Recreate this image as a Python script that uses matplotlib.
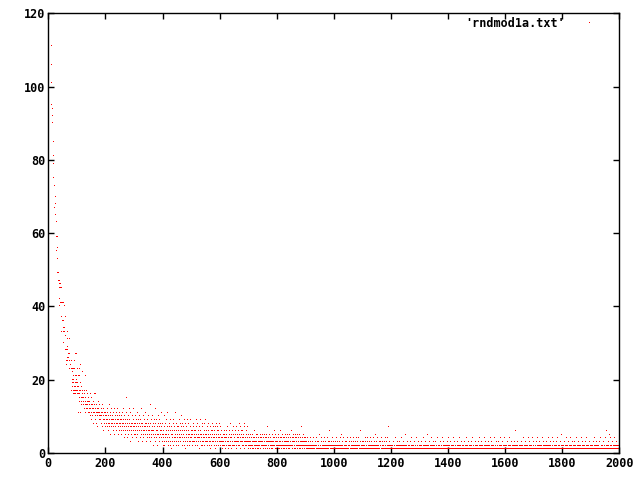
import numpy as np
import matplotlib.pyplot as plt

# steep head of the data, read point by point
head_x = [8, 10, 11, 11, 12, 14, 14, 15, 17, 18, 18, 19, 21, 21, 24, 25, 25, 27, 26, 29,
          31, 28, 31, 32, 31, 34, 35, 37, 38, 41, 36, 40, 44, 38, 42, 46, 49, 52, 39, 56,
          45, 60, 49, 52, 50, 53, 56, 46, 50, 53, 55, 66, 60, 66, 72, 52, 66, 60, 63, 65,
          70, 73, 92, 97, 64, 67, 70, 61, 67, 74, 79, 91, 63, 77, 112, 74, 78, 82, 86, 90,
          101, 107, 84, 119, 88, 93, 98, 103, 107, 130]
head_y = [111, 106, 101, 95, 94, 92, 90, 85, 81, 79, 75, 73, 73, 67, 70, 68, 65, 63, 59, 59,
          59, 55, 56, 53, 49, 49, 47, 47, 46, 46, 45, 45, 45, 42, 41, 41, 41, 41, 40, 40,
          37, 37, 36, 36, 34, 34, 34, 33, 33, 33, 33, 33, 32, 31, 31, 30, 29, 28, 28, 28,
          27, 27, 27, 27, 26, 26, 26, 25, 25, 25, 25, 25, 24, 24, 24, 23, 23, 23, 23, 23,
          23, 23, 22, 22, 21, 21, 21, 21, 21, 21]

# one value per x from x = 81 on, written in base 36 (a=10 ... k=20)
tail_start = 81
tail = [
    "hjkighjkhigjihgkjhig", "jhgibfhegjbhfdeighfe", "edfhcgdebfcdhecgdfeb",
    "cdbegacdb9fcdaebc8dg", "bacg9bd8cab7ecb9adba", "a9bc8ab7d9a6cb89a7ba",
    "9a87cb98a6d9875ab98c79a86b9785ca9a76b89c8a5978ba69",
    "87a6958b7c69847a8596b7f8694a758c6973b8576a8497c685",
    "7586a49768b5739686a47958c637865a479685b73869574a68",
    "6475d839564a762586947c538694752658a473965847b63582",
    "5463a725483695b473625847293651746358927436b5428637",
    "45736294583647a52846375926483154763925486352749365",
    "43652738465342697354284635147539624583274536284593",
    "35462738456324157346258364735246371584263745263847",
    "35243614325236425314264533724135628423514326352743",
    "24536273145362438253471635243625438173425362437251",
    "32431523422315243126342135243125342133241352432253",
    "24135234213524317234215324341233251423624231532413",
    "32421532142632413523142432135232412531423521432462",
    "23412534213245132341252343125243123724312534213243",
    "21312411223112142311221312141211322114213122131152",
    "12213411212312114213221124132113621211321421221311",
    "21132124121321122131421125123211412213212123114212",
    "13221411213212113241211231142213122411213162121132",
    "21131224131221134121231122141231211422112352112131",
    "14212231113221141213122131124211312214172112311221",
    "12112131122111411213211121121312112411211312211151",
    "21121113211211231121141121211131121211421121131121",
    "11221131112411211213112111521121311211412112113211",
    "12131122111411211221311121141121312111211211321141",
    "21112131121121141121132112111123112114211211131211",
    "12211311121142111211312112113112114112211131121121",
    "11213112411211213112111142112131121211132112141121",
    "31121112211411213111221113112114211211131211214211",
    "11211311211211412131112112111321121612112131112112",
    "12112131121411211213112112114112113112112141121131",
    "11212113112411212113112112114121131121121121311214",
    "12112131211141121131121121211311411211211311215112",
    "21121131121411212113112112114112113112112131121141",
    "12112131121121141121311212111312114112211131121121",
    "21112131121411211213112112113114112112121131121141",
    "16211211311251121141121131211214112112131121121131",
]

tail_y = [int(c, 36) for c in "".join(tail)]
tail_x = np.arange(tail_start, tail_start + len(tail_y))

x = np.concatenate([head_x, tail_x])
y = np.concatenate([head_y, tail_y])

fig = plt.figure(figsize=(6.4, 4.8), dpi=100)
ax = fig.add_axes([48.3 / 640, 1 - 453 / 480, 571 / 640, 439.7 / 480])

ax.plot(x, y, ',', color='#ff0000', antialiased=False, label="'rndmod1a.txt'")

ax.set_xlim(0, 2000)
ax.set_ylim(0, 120)
ax.set_xticks(np.arange(0, 2001, 200))
ax.set_yticks(np.arange(0, 121, 20))

for s in ax.spines.values():
    s.set_linewidth(1.0)
ax.tick_params(direction='in', top=True, right=True, length=4, width=1.0)
ax.tick_params(axis='x', pad=3)
ax.tick_params(axis='y', pad=2)
for lab in ax.get_xticklabels() + ax.get_yticklabels():
    lab.set_fontfamily('DejaVu Sans Mono')
    lab.set_fontweight('bold')
    lab.set_fontsize(8.5)

ax.legend(loc='center right', bbox_to_anchor=(0.9725, 0.9757), frameon=False,
          markerfirst=False, handlelength=2.47, handletextpad=0.8,
          borderpad=0, borderaxespad=0,
          prop={'family': 'DejaVu Sans Mono', 'weight': 'bold', 'size': 8.5})

fig.savefig('out.png', dpi=100)
